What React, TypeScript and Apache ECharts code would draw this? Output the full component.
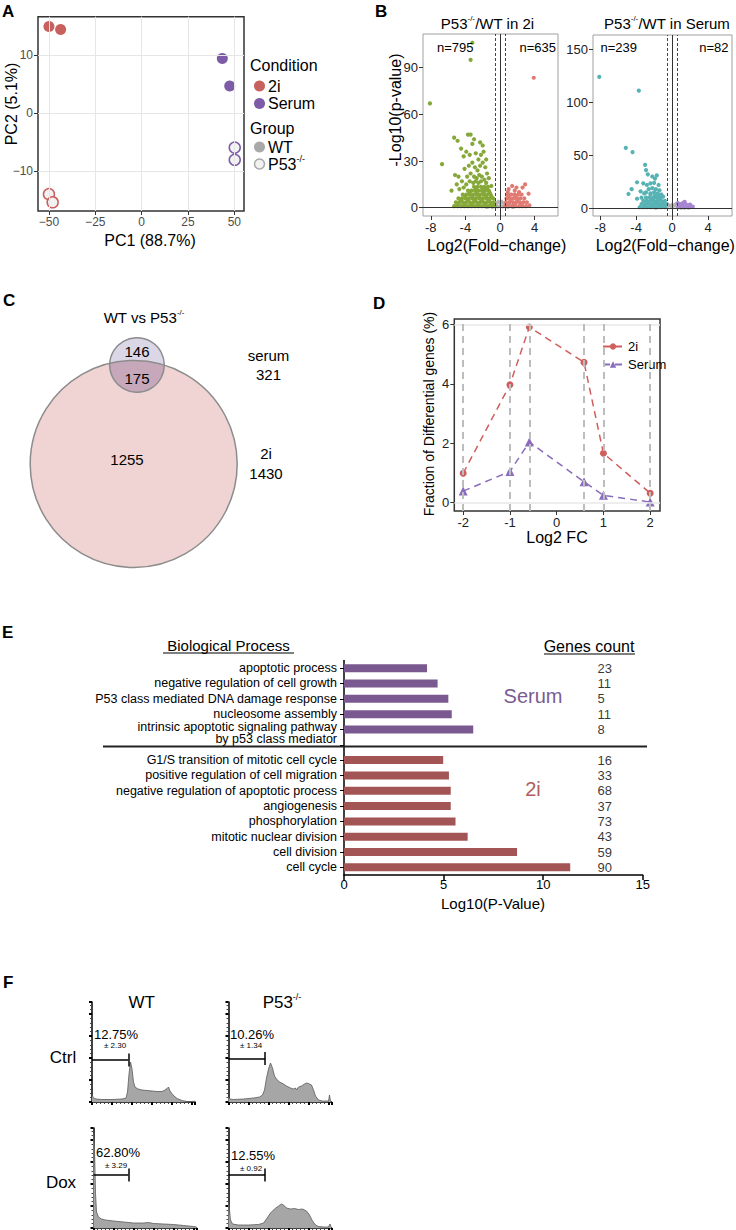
import React, { useEffect, useRef } from 'react';
import * as echarts from 'echarts';

const F = 'Liberation Sans, Arial, Helvetica, sans-serif';

// ---------- A: PCA ----------
const pcaXTicks = [-50, -25, 0, 25, 50];
const pcaYTicks = [-10, 0, 10];
const pca2iWT = [[-50, 14.9], [-43.7, 14.4]];
const pcaSerumWT = [[43.5, 9.4], [47.5, 4.7]];
const pca2iP53 = [[-50, -13.9], [-48, -15.3]];
const pcaSerumP53 = [[50.2, -5.9], [50.2, -8.0]];

// ---------- B: volcano ----------
const volcXTicks = [-8, -4, 0, 4];
const volc2iYTicks = [0, 30, 60, 90];
const volcSerumYTicks = [0, 50, 100, 150];
const fcCut = 0.58;
const volc2iN = ['n=795', 'n=635'];
const volcSerumN = ['n=239', 'n=82'];
const volc2iDown = [
  [-3.2, 106], [-3.4, 95], [-8.1, 67], [-6.7, 28], [-5.3, 45], [-4.9, 43], [-3.7, 47], [-3.4, 47], [-3.0, 44], [-2.3, 42], [-2.0, 40], [-3.2, 41],
  [-4.5, 38], [-4.2, 33], [-3.9, 36], [-3.5, 34], [-2.8, 35], [-2.5, 31], [-2.2, 34], [-1.9, 36], [-1.6, 31], [-5.2, 21], [-4.8, 20], [-4.1, 25],
  [-3.6, 27], [-3.2, 29], [-2.9, 26], [-2.6, 24], [-2.3, 27], [-2.0, 29], [-1.7, 26], [-1.5, 22], [-3.8, 20], [-3.4, 22], [-3.0, 20], [-2.7, 19],
  [-2.4, 21], [-2.1, 20], [-1.8, 18], [-1.3, 19], [-4.4, 17], [-5.0, 15], [-3.9, 15], [-3.5, 17], [-3.1, 16], [-2.8, 17], [-2.5, 16], [-2.2, 17],
  [-1.6, 16], [-5.6, 11], [-4.7, 12], [-4.2, 13], [-1.0, 14],
  [-5.3, 1], [-4.9, 1], [-4.5, 1], [-4.1, 1], [-3.7, 1], [-3.3, 1], [-2.9, 1], [-2.5, 1], [-2.1, 1], [-1.7, 1], [-1.3, 1], [-0.95, 1], [-0.65, 1],
  [-5.1, 3.5], [-4.7, 3.5], [-4.3, 3.5], [-3.9, 3.5], [-3.5, 3.5], [-3.1, 3.5], [-2.7, 3.5], [-2.3, 3.5], [-1.9, 3.5], [-1.5, 3.5], [-1.1, 3.5], [-0.7, 3.5],
  [-4.8, 6], [-4.4, 6], [-4.0, 6], [-3.6, 6], [-3.2, 6], [-2.8, 6], [-2.4, 6], [-2.0, 6], [-1.6, 6], [-1.2, 6], [-0.8, 6],
  [-4.3, 8.5], [-3.9, 8.5], [-3.5, 8.5], [-3.1, 8.5], [-2.7, 8.5], [-2.3, 8.5], [-1.9, 8.5], [-1.5, 8.5], [-1.1, 8.5],
  [-3.7, 11], [-3.3, 11], [-2.9, 11], [-2.5, 11], [-2.1, 11], [-1.7, 11], [-1.3, 11],
  [-3.0, 13.5], [-2.6, 13.5], [-2.2, 13.5], [-1.8, 13.5], [-1.4, 13.5],
  [-4.9, 2.2], [-4.1, 2.2], [-3.3, 2.2], [-2.5, 2.2], [-1.7, 2.2], [-0.9, 2.2],
  [-4.5, 4.8], [-3.7, 4.8], [-2.9, 4.8], [-2.1, 4.8], [-1.3, 4.8],
  [-4.0, 7.3], [-3.2, 7.3], [-2.4, 7.3], [-1.6, 7.3], [-1.0, 7.3],
  [-3.5, 9.8], [-2.7, 9.8], [-1.9, 9.8], [-1.2, 9.8],
  [-2.8, 12.3], [-2.0, 12.3], [-1.5, 12.3],
];
const volc2iUp = [
  [3.9, 83.5], [2.9, 15], [2.6, 13], [1.4, 14], [1.0, 12], [1.7, 11], [2.2, 10], [3.3, 9], [2.5, 8.5], [0.9, 10], [1.9, 13],
  [0.65, 1], [1.0, 1], [1.4, 1], [1.8, 1], [2.2, 1], [2.6, 1], [3.0, 1], [3.4, 1.5],
  [0.7, 3.5], [1.1, 3.5], [1.5, 3.5], [1.9, 3.5], [2.3, 3.5], [2.7, 3.5], [3.1, 3.5],
  [0.75, 6], [1.15, 6], [1.55, 6], [1.95, 6], [2.35, 6], [2.8, 6],
  [0.9, 8.5], [1.3, 8.5], [1.7, 8.5], [2.1, 8.5],
  [0.85, 2.2], [1.6, 2.2], [2.4, 2.2], [1.2, 4.8], [2.0, 4.8], [1.0, 7.3], [1.8, 7.3],
];
const volc2iNS = [
  [-1.5, 0.4], [-1.2, 1], [-0.9, 0.5], [-0.6, 1.5], [-0.3, 0.8], [0, 1.2], [0.3, 0.8], [0.6, 1.5], [0.9, 0.5], [1.2, 1], [1.5, 0.4],
  [-0.45, 2.8], [0.45, 2.8], [-0.2, 4], [0.2, 4], [-0.8, 2.5], [0.8, 2.5], [-1.1, 2], [1.1, 2], [0, 3],
];
const volcSerumDown = [
  [-8.1, 124], [-3.7, 111], [-5.15, 57], [-4.4, 53], [-3.0, 41], [-2.9, 36], [-2.7, 32], [-3.9, 24.5], [-4.85, 13.5], [-4.5, 18], [-2.2, 30],
  [-1.7, 31], [-1.9, 28], [-2.4, 23.5], [-3.2, 23.5], [-3.5, 16], [-2.8, 22], [-2.0, 24], [-1.5, 22], [-2.6, 18], [-2.2, 19], [-1.8, 18],
  [-1.4, 17], [-3.1, 14], [-2.9, 15], [-2.4, 14], [-2.0, 15], [-1.6, 14], [-1.2, 13], [-3.9, 9], [-3.4, 10], [-1.0, 11],
  [-3.6, 1], [-3.2, 1], [-2.8, 1], [-2.4, 1], [-2.0, 1], [-1.6, 1], [-1.2, 1], [-0.8, 1],
  [-3.4, 4], [-3.0, 4], [-2.6, 4], [-2.2, 4], [-1.8, 4], [-1.4, 4], [-1.0, 4], [-0.7, 4],
  [-3.2, 7], [-2.8, 7], [-2.4, 7], [-2.0, 7], [-1.6, 7], [-1.2, 7], [-0.8, 7],
  [-2.9, 10], [-2.5, 10], [-2.1, 10], [-1.7, 10], [-1.3, 10],
  [-2.4, 13], [-1.9, 12], [-1.5, 12.5],
  [-3.0, 2.5], [-2.2, 2.5], [-1.4, 2.5], [-2.6, 5.5], [-1.8, 5.5], [-1.0, 5.5], [-2.2, 8.5], [-1.4, 8.5],
];
const volcSerumUp = [
  [0.7, 1], [1.0, 2], [1.3, 1], [1.6, 2], [1.9, 1], [2.3, 1.5], [0.9, 4], [1.2, 5], [1.5, 4], [1.8, 3], [1.1, 3], [0.8, 2.5], [1.4, 6], [2.0, 3.5], [0.65, 5],
];
const volcSerumNS = [
  [-1.4, 1], [-1.0, 2], [-0.6, 1], [-0.3, 2.5], [0, 1], [0.3, 2.5], [0.6, 1], [1.0, 0.5], [1.4, 0.5], [-0.5, 4], [0.4, 4], [0, 3.5], [1.8, 0.5], [-1.8, 0.5],
];

// ---------- C: Venn ----------
const vennSerumOnly = '146';
const vennShared = '175';
const venn2iOnly = '1255';
const vennSerumTotal = '321';
const venn2iTotal = '1430';

// ---------- D ----------
const dFC = [-2, -1, -0.585, 0.585, 1, 2];
const d2i = [0.99, 3.97, 5.91, 4.72, 1.66, 0.32];
const dSerum = [0.39, 1.05, 2.04, 0.70, 0.25, 0.02];
const dXTicks = [-2, -1, 0, 1, 2];
const dYTicks = [0, 2, 4, 6];
const dHLines = [0, 6];

// ---------- E ----------
const serumTerms = [
  'apoptotic process',
  'negative regulation of cell growth',
  'P53 class mediated DNA damage response',
  'nucleosome assembly',
  'intrinsic apoptotic signaling pathway\nby p53 class mediator',
];
const serumLogP = [4.17, 4.70, 5.24, 5.41, 6.49];
const serumCounts = [23, 11, 5, 11, 8];
const twoiTerms = [
  'G1/S transition of mitotic cell cycle',
  'positive regulation of cell migration',
  'negative regulation of apoptotic process',
  'angiogenesis',
  'phosphorylation',
  'mitotic nuclear division',
  'cell division',
  'cell cycle',
];
const twoiLogP = [4.98, 5.27, 5.36, 5.36, 5.6, 6.21, 8.69, 11.36];
const twoiCounts = [16, 33, 68, 37, 73, 43, 59, 90];
const eXTicksInterval = 5;

// ---------- F: flow histograms ----------
const wtCtrlHist = [[0, 7], [1.5, 4], [4, 3], [10, 2.5], [20, 2.5], [30, 3], [34, 4], [35.5, 10], [37, 28], [38.5, 40], [40, 33], [41.5, 20], [43, 15], [46, 13], [50, 12], [55, 11.5], [60, 11], [65, 10.5], [70, 10.5], [73, 12], [75, 13.5], [76.5, 15], [78, 11], [81, 7], [85, 3.5], [90, 1.5], [95, 0.5], [100, 0.5], [103, 0.8]];
const p53CtrlHist = [[0, 5], [1.5, 3], [5, 2.5], [15, 3], [25, 4], [31, 5], [34, 7], [36, 12], [38, 24], [40, 33], [42, 39], [44, 34], [46, 26], [48, 23], [51, 20], [55, 18], [58, 16], [62, 14], [65, 13], [67, 14], [68, 12], [70, 15], [73, 16], [76, 18], [78, 19], [80, 18.5], [83, 17], [85, 12], [87, 6], [90, 2], [94, 1], [100, 1], [101, 7], [102, 1]];
const wtDoxHist = [[0, 95], [1, 80], [2, 35], [3, 16], [5, 11], [8, 9], [12, 8], [20, 7], [30, 6], [40, 5], [50, 5], [55, 5.5], [60, 4.5], [70, 4], [80, 3.5], [90, 2.5], [100, 1.5], [103, 1]];
const p53DoxHist = [[0, 26], [1, 18], [2, 8], [4, 4], [10, 3], [20, 3], [30, 3.5], [35, 5], [38, 9], [42, 15], [46, 19], [50, 22], [53, 24], [55, 23], [58, 20], [62, 19], [66, 19.5], [70, 18.5], [74, 19], [78, 17], [81, 13], [84, 7], [87, 3], [90, 1.5], [95, 1], [100, 1], [101.5, 4], [102.5, 1]];
const fHists = [wtCtrlHist, p53CtrlHist, wtDoxHist, p53DoxHist];
const fGateX = [36.3, 36.7, 34.8, 36.7];
const fGateY = [42, 43.5, 53, 53];
const fPercents = ['12.75%', '10.26%', '62.80%', '12.55%'];
const fSD = ['± 2.30', '± 1.34', '± 3.29', '± 0.92'];

const C2I = '#C8605E';
const CSER = '#7D5BA6';

function buildOption() {
  const minus = (v: number) => (v < 0 ? '\u2212' + Math.abs(v) : String(v));
  const noBounds = { outerBoundsMode: 'none', containLabel: false };
  const grids: any[] = [
    { left: 38, top: 16.7, width: 206, height: 194.3, show: true, borderColor: '#333', borderWidth: 1.5, backgroundColor: 'transparent', ...noBounds },
    { left: 423, top: 34, width: 135, height: 182, show: true, borderColor: '#A0A0A0', borderWidth: 1, backgroundColor: 'transparent', ...noBounds },
    { left: 593, top: 35, width: 139, height: 181, show: true, borderColor: '#A0A0A0', borderWidth: 1, backgroundColor: 'transparent', ...noBounds },
    { left: 454.3, top: 319, width: 205.7, height: 192, show: true, borderColor: '#333', borderWidth: 1.5, backgroundColor: 'transparent', ...noBounds },
    { left: 344, top: 660.5, width: 298.7, height: 214.5, show: false, ...noBounds },
    { left: 92, top: 1002, width: 103, height: 100, show: false, ...noBounds },
    { left: 228.5, top: 1002, width: 103, height: 100, show: false, ...noBounds },
    { left: 93.5, top: 1128, width: 103, height: 100, show: false, ...noBounds },
    { left: 228.5, top: 1128, width: 103, height: 100, show: false, ...noBounds },
  ];

  const valAxis = (gi: number, min: number, max: number, ticks: number[], o: any = {}) => ({
    gridIndex: gi, type: 'value', min, max,
    axisLine: { show: false, onZero: false },
    axisTick: { show: true, customValues: ticks, length: 4, lineStyle: { color: '#333', width: 1 } },
    axisLabel: { show: true, customValues: ticks, fontSize: o.fs || 13, color: o.color || '#222', margin: o.margin || 5, fontFamily: F, formatter: o.fmt },
    splitLine: { show: false },
  });
  const histX = (gi: number) => ({
    gridIndex: gi, type: 'value', min: 0, max: 103, interval: 20,
    axisLine: { show: true, onZero: false, lineStyle: { color: '#000', width: 1.5 } },
    axisTick: { show: true, length: 3, lineStyle: { color: '#000', width: 2 } },
    minorTick: { show: true, splitNumber: 5, length: 2, lineStyle: { color: '#444', width: 1 } },
    axisLabel: { show: false }, splitLine: { show: false }, minorSplitLine: { show: false },
  });
  const histY = (gi: number) => ({
    gridIndex: gi, type: 'value', min: 0, max: 100, interval: 22,
    axisLine: { show: true, onZero: false, lineStyle: { color: '#000', width: 1.5 } },
    axisTick: { show: true, length: 3, lineStyle: { color: '#000', width: 2 } },
    minorTick: { show: true, splitNumber: 5, length: 2, lineStyle: { color: '#444', width: 1 } },
    axisLabel: { show: false }, splitLine: { show: false }, minorSplitLine: { show: false },
  });

  const eCats = [...serumTerms, '', ...twoiTerms];
  const eVals = [...serumLogP, null, ...twoiLogP];
  const eCounts = [...serumCounts, null, ...twoiCounts];
  const eCountX = 12.7;

  const xAxes: any[] = [
    valAxis(0, -55.9, 55.2, pcaXTicks, { fs: 12, color: '#4D4D4D', fmt: minus }),
    valAxis(1, -8.9, 6.7, volcXTicks),
    valAxis(2, -8.8, 6.67, volcXTicks),
    valAxis(3, -2.19, 2.21, dXTicks),
    {
      gridIndex: 4, type: 'value', min: 0, max: 15, interval: eXTicksInterval,
      axisLine: { show: true, onZero: false, lineStyle: { color: '#000', width: 1.5 } },
      axisTick: { show: true, length: 5, lineStyle: { color: '#000', width: 1.5 } },
      axisLabel: { show: true, fontSize: 13, color: '#000', margin: 3, fontFamily: F },
      splitLine: { show: false },
    },
    histX(5), histX(6), histX(7), histX(8),
  ];
  const yAxes: any[] = [
    valAxis(0, -16.8, 16.6, pcaYTicks, { fs: 12, color: '#4D4D4D', fmt: minus }),
    valAxis(1, -5.3, 111.6, volc2iYTicks),
    valAxis(2, -7.3, 163.5, volcSerumYTicks),
    valAxis(3, -0.28, 6.18, dYTicks),
    {
      gridIndex: 4, type: 'category', data: eCats, inverse: true,
      axisLine: { show: true, onZero: false, lineStyle: { color: '#000', width: 1.5 } },
      axisTick: { show: true, alignWithLabel: true, interval: 0, length: 4, lineStyle: { color: '#000' } },
      axisLabel: {
        show: true, interval: 0, fontSize: 12.5, color: '#000', margin: 7, lineHeight: 12, fontFamily: F,
        formatter: (v: string) => (v.indexOf('\n') >= 0 ? `{t|${v}}` : v),
        rich: { t: { fontSize: 12.5, lineHeight: 12, color: '#000', fontFamily: F, padding: [7, 0, 0, 0], align: 'right' } },
      },
      splitLine: { show: false },
    },
    histY(5), histY(6), histY(7), histY(8),
  ];

  const noLbl = { show: false };
  const series: any[] = [];
  // A
  series.push({
    type: 'scatter', name: 'pca-grid', xAxisIndex: 0, yAxisIndex: 0, data: [], silent: true,
    markLine: {
      silent: true, symbol: ['none', 'none'], label: noLbl, animation: false,
      lineStyle: { color: '#E6E6E6', width: 1, type: 'solid' },
      data: [...pcaXTicks.map((v) => ({ xAxis: v })), ...pcaYTicks.map((v) => ({ yAxis: v }))],
    },
  });
  series.push({ type: 'scatter', name: 'pca-2i-WT', xAxisIndex: 0, yAxisIndex: 0, data: pca2iWT, symbolSize: 11, itemStyle: { color: C2I, opacity: 1 } });
  series.push({ type: 'scatter', name: 'pca-Serum-WT', xAxisIndex: 0, yAxisIndex: 0, data: pcaSerumWT, symbolSize: 11, itemStyle: { color: CSER, opacity: 1 } });
  series.push({ type: 'scatter', name: 'pca-2i-P53', xAxisIndex: 0, yAxisIndex: 0, data: pca2iP53, symbolSize: 11, itemStyle: { color: '#F2F2F2', borderColor: C2I, borderWidth: 1.5, opacity: 1 } });
  series.push({ type: 'scatter', name: 'pca-Serum-P53', xAxisIndex: 0, yAxisIndex: 0, data: pcaSerumP53, symbolSize: 11, itemStyle: { color: '#F2F2F2', borderColor: CSER, borderWidth: 1.5, opacity: 1 } });

  // B
  const volcPts = (gi: number, name: string, data: number[][], color: string, size = 3.8) => ({
    type: 'scatter', name, xAxisIndex: gi, yAxisIndex: gi, data, symbolSize: size, itemStyle: { color, opacity: 1 },
  });
  const volcLines = (gi: number) => ({
    type: 'scatter', name: 'volc-lines-' + gi, xAxisIndex: gi, yAxisIndex: gi, data: [], silent: true,
    markLine: {
      silent: true, symbol: ['none', 'none'], label: noLbl, animation: false,
      data: [
        { xAxis: -fcCut, lineStyle: { color: '#444', width: 1, type: [3, 2] } },
        { xAxis: fcCut, lineStyle: { color: '#444', width: 1, type: [3, 2] } },
        { xAxis: 0, lineStyle: { color: '#333', width: 1, type: 'solid' } },
        { yAxis: 0, lineStyle: { color: '#333', width: 1, type: 'solid' } },
      ],
    },
  });
  series.push(volcPts(1, 'v2i-ns', volc2iNS, '#B3B3B3'));
  series.push(volcPts(1, 'v2i-down', volc2iDown, '#86A838', 4.2));
  series.push(volcPts(1, 'v2i-up', volc2iUp, '#E07A72', 4.2));
  series.push(volcLines(1));
  series.push(volcPts(2, 'vs-ns', volcSerumNS, '#B3B3B3'));
  series.push(volcPts(2, 'vs-down', volcSerumDown, '#57B2B4', 4.2));
  series.push(volcPts(2, 'vs-up', volcSerumUp, '#A686D0', 4.2));
  series.push(volcLines(2));

  // D
  series.push({
    type: 'scatter', name: 'd-grid', xAxisIndex: 3, yAxisIndex: 3, data: [], silent: true,
    markLine: {
      silent: true, symbol: ['none', 'none'], label: noLbl, animation: false,
      data: [
        ...dHLines.map((v) => ({ yAxis: v, lineStyle: { color: '#E8E8E8', width: 1.5, type: 'solid' } })),
        ...dFC.map((v) => ({ xAxis: v, lineStyle: { color: '#BDBDBD', width: 2, type: [7, 5] } })),
      ],
    },
  });
  series.push({
    type: 'line', name: '2i', xAxisIndex: 3, yAxisIndex: 3, data: dFC.map((x, i) => [x, d2i[i]]),
    symbol: 'circle', symbolSize: 7, showSymbol: true,
    lineStyle: { color: '#CF5F5C', width: 1.5, type: [7, 5] }, itemStyle: { color: '#CF5F5C' },
  });
  series.push({
    type: 'line', name: 'Serum', xAxisIndex: 3, yAxisIndex: 3, data: dFC.map((x, i) => [x, dSerum[i]]),
    symbol: 'triangle', symbolSize: 9, showSymbol: true,
    lineStyle: { color: '#8A6BBE', width: 1.5, type: [7, 5] }, itemStyle: { color: '#8A6BBE' },
  });

  // E
  series.push({
    type: 'bar', name: 'go-bars', xAxisIndex: 4, yAxisIndex: 4, barWidth: 8,
    data: eVals.map((v, i) => (v == null ? '-' : { value: v, itemStyle: { color: i < serumTerms.length ? '#79598F' : '#A35555' } })),
  });
  series.push({
    type: 'scatter', name: 'go-counts', xAxisIndex: 4, yAxisIndex: 4, symbolSize: 1, silent: true,
    itemStyle: { color: 'transparent' },
    data: eCounts.map((c, i) => (c == null ? null : { value: [eCountX, i], name: String(c) })).filter((d) => d),
    label: { show: true, position: 'right', distance: 0, formatter: '{b}', fontSize: 13, color: '#000', fontFamily: F },
  });

  // F
  fHists.forEach((h, k) => {
    const gi = 5 + k;
    const gx = fGateX[k];
    const gy = fGateY[k];
    series.push({
      type: 'line', name: 'hist-' + k, xAxisIndex: gi, yAxisIndex: gi, data: h, symbol: 'none', smooth: false,
      lineStyle: { color: '#5A5A5A', width: 0.8 }, areaStyle: { color: '#A6A6A6', opacity: 1 },
      markLine: {
        silent: true, symbol: ['none', 'none'], label: noLbl, animation: false,
        lineStyle: { color: '#000', width: 1.5, type: 'solid' },
        data: [
          [{ coord: [0, gy] }, { coord: [gx, gy] }],
          [{ coord: [gx, gy - 6.5] }, { coord: [gx, gy + 6.5] }],
        ],
      },
    });
  });

  // ---------- graphics ----------
  const g: any[] = [];
  const T = (x: number, y: number, text: string, size: number, o: any = {}) =>
    g.push({
      type: 'text', x, y, rotation: o.rot || 0, z: 100,
      style: {
        text, fontSize: size, fontFamily: F, fontWeight: o.bold ? 'bold' : 'normal', fill: o.fill || '#000',
        align: o.align || 'center', verticalAlign: o.va || 'middle',
      },
    });
  const RT = (x: number, y: number, parts: [string, boolean][], size: number, o: any = {}) =>
    g.push({
      type: 'text', x, y, z: 100,
      style: {
        text: parts.map(([t, s]) => `{${s ? 's' : 'a'}|${t}}`).join(''),
        rich: {
          a: { fontSize: size, fontFamily: F, fill: '#000', color: '#000', lineHeight: size + 3 },
          s: { fontSize: Math.round(size * 0.55), fontFamily: F, fill: '#000', color: '#000', lineHeight: Math.round(size * 0.6), verticalAlign: 'top' },
        },
        align: o.align || 'center', verticalAlign: 'middle',
      },
    });
  const L = (x1: number, y1: number, x2: number, y2: number, w: number, c: string) =>
    g.push({ type: 'line', z: 100, shape: { x1, y1, x2, y2 }, style: { stroke: c, lineWidth: w } });

  // panel letters
  T(2, 11, 'A', 17, { bold: true, align: 'left' });
  T(375, 11, 'B', 17, { bold: true, align: 'left' });
  T(3, 300, 'C', 17, { bold: true, align: 'left' });
  T(373, 303, 'D', 17, { bold: true, align: 'left' });
  T(2, 632, 'E', 17, { bold: true, align: 'left' });
  T(3, 982, 'F', 17, { bold: true, align: 'left' });

  // A titles + legend
  T(150, 240, 'PC1 (88.7%)', 16);
  T(11, 104, 'PC2 (5.1%)', 16, { rot: Math.PI / 2 });
  T(250, 65, 'Condition', 16, { align: 'left' });
  g.push({ type: 'circle', z: 100, shape: { cx: 259.5, cy: 86, r: 5.5 }, style: { fill: C2I } });
  T(268, 86, '2i', 16, { align: 'left' });
  g.push({ type: 'circle', z: 100, shape: { cx: 259.5, cy: 103.5, r: 5.5 }, style: { fill: CSER } });
  T(268, 103.5, 'Serum', 16, { align: 'left' });
  T(250, 128, 'Group', 16, { align: 'left' });
  g.push({ type: 'circle', z: 100, shape: { cx: 259.5, cy: 147, r: 5.5 }, style: { fill: '#A9A9A9' } });
  T(268, 147, 'WT', 16, { align: 'left' });
  g.push({ type: 'circle', z: 100, shape: { cx: 259.5, cy: 164, r: 5 }, style: { fill: '#F2F2F2', stroke: '#A9A9A9', lineWidth: 1.5 } });
  RT(268, 164, [['P53', false], ['-/-', true]], 16, { align: 'left' });

  // B titles
  RT(487.5, 23, [['P53', false], ['-/-', true], ['/WT in 2i', false]], 15);
  RT(667, 23, [['P53', false], ['-/-', true], ['/WT in Serum', false]], 15);
  T(437, 47, volc2iN[0], 13, { align: 'left' });
  T(556, 47, volc2iN[1], 13, { align: 'right' });
  T(600.5, 47, volcSerumN[0], 13, { align: 'left' });
  T(728.5, 47, volcSerumN[1], 13, { align: 'right' });
  T(395, 110, '-Log10(p-value)', 16, { rot: Math.PI / 2 });
  T(496.7, 245, 'Log2(Fold\u2212change)', 16);
  T(665.3, 245, 'Log2(Fold\u2212change)', 16);

  // C Venn
  const C1 = [133.7, 464], RB = 103.5, C2 = [137, 365], rs = 27.3;
  const dx = C2[0] - C1[0], dy = C2[1] - C1[1], dd = Math.hypot(dx, dy);
  const th0 = Math.atan2(dy, dx);
  const aa = (RB * RB - rs * rs + dd * dd) / (2 * dd);
  const hh = Math.sqrt(Math.max(RB * RB - aa * aa, 0));
  const beta = Math.atan2(hh, aa);
  const alpha = Math.atan2(hh, aa - dd);
  const cap: number[][] = [];
  for (let i = 0; i <= 48; i++) {
    const t = th0 - alpha + (2 * alpha * i) / 48;
    cap.push([C2[0] + rs * Math.cos(t), C2[1] + rs * Math.sin(t)]);
  }
  for (let i = 0; i <= 24; i++) {
    const t = th0 + beta - (2 * beta * i) / 24;
    cap.push([C1[0] + RB * Math.cos(t), C1[1] + RB * Math.sin(t)]);
  }
  g.push({ type: 'circle', z: 10, shape: { cx: C1[0], cy: C1[1], r: RB }, style: { fill: '#EFD4D3' } });
  g.push({ type: 'circle', z: 11, shape: { cx: C2[0], cy: C2[1], r: rs }, style: { fill: '#C6A8BA' } });
  g.push({ type: 'polygon', z: 12, shape: { points: cap }, style: { fill: '#DCD7E7' } });
  g.push({ type: 'circle', z: 13, shape: { cx: C1[0], cy: C1[1], r: RB }, style: { fill: 'none', stroke: '#8C8C8C', lineWidth: 1.5 } });
  g.push({ type: 'circle', z: 13, shape: { cx: C2[0], cy: C2[1], r: rs }, style: { fill: 'none', stroke: '#8C8C8C', lineWidth: 1.5 } });
  RT(144, 317.5, [['WT vs P53', false], ['-/-', true]], 15);
  T(137, 351, vennSerumOnly, 15);
  T(137, 378, vennShared, 15);
  T(127, 459.5, venn2iOnly, 15);
  T(268.5, 355, 'serum', 15);
  T(268.5, 374, vennSerumTotal, 15);
  T(266, 453.5, '2i', 15);
  T(266, 473, venn2iTotal, 15);

  // D titles
  T(429, 414, 'Fraction of Differential genes (%)', 14, { rot: Math.PI / 2 });
  T(557, 537, 'Log2 FC', 16);

  // E extras
  T(228.5, 645, 'Biological Process', 15);
  L(163, 653, 294, 653, 1, '#000');
  T(589, 646.5, 'Genes count', 16);
  L(544, 654, 635, 654, 1, '#000');
  L(103, 746.5, 647, 746.5, 2, '#222');
  T(533, 696, 'Serum', 20, { fill: '#7A5C91' });
  T(533, 789, '2i', 20, { fill: '#B25C5C' });
  T(493, 903, 'Log10(P-Value)', 15);

  // F extras
  T(141.7, 1002, 'WT', 17);
  RT(282, 1002, [['P53', false], ['-/-', true]], 17);
  T(63, 1057, 'Ctrl', 17);
  T(61, 1182, 'Dox', 17);
  const pctPos = [[94, 1034], [230, 1034], [96, 1152], [231, 1155]];
  const sdPos = [[115, 1045.5], [251, 1045.5], [116, 1165], [251, 1168]];
  fPercents.forEach((p, k) => T(pctPos[k][0], pctPos[k][1], p, 13, { align: 'left' }));
  fSD.forEach((s, k) => T(sdPos[k][0], sdPos[k][1], s, 8));

  return {
    animation: false,
    backgroundColor: '#ffffff',
    textStyle: { fontFamily: F },
    grid: grids,
    xAxis: xAxes,
    yAxis: yAxes,
    legend: {
      data: ['2i', 'Serum'], orient: 'vertical', left: 597, top: 335, itemWidth: 20, itemHeight: 8, itemGap: 5,
      textStyle: { fontSize: 13, fontFamily: F, color: '#000' }, selectedMode: false,
    },
    series,
    graphic: { elements: g },
  };
}

export default function App() {
  const ref = useRef<HTMLDivElement>(null);
  useEffect(() => {
    if (!ref.current) return;
    const chart = echarts.init(ref.current, null, { renderer: 'svg' });
    chart.setOption(buildOption() as any);
    return () => chart.dispose();
  }, []);
  return (
    <div
      ref={ref}
      style={{ position: 'absolute', left: 0, top: 0, width: 736, height: 1230, background: '#fff' }}
    />
  );
}
